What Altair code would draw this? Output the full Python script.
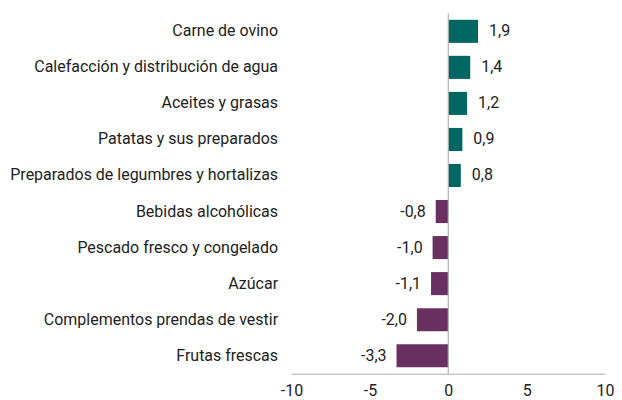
import altair as alt
import pandas as pd

categories = [
    "Carne de ovino",
    "Calefacción y distribución de agua",
    "Aceites y grasas",
    "Patatas y sus preparados",
    "Preparados de legumbres y hortalizas",
    "Bebidas alcohólicas",
    "Pescado fresco y congelado",
    "Azúcar",
    "Complementos prendas de vestir",
    "Frutas frescas",
]
values = [1.9, 1.4, 1.2, 0.9, 0.8, -0.8, -1.0, -1.1, -2.0, -3.3]
x_ticks = [-10, -5, 0, 5, 10]

df = pd.DataFrame({"cat": categories, "val": values})
df["label"] = [f"{v:.1f}".replace(".", ",") for v in values]
df["sign"] = ["pos" if v >= 0 else "neg" for v in values]

FONT = "Roboto"
FS = 16
y_enc = alt.Y("cat:N", sort=categories, title=None,
              scale=alt.Scale(paddingInner=0.36, paddingOuter=0.18),
              axis=alt.Axis(domain=False, ticks=False, labelPadding=14,
                            labelFontSize=FS, labelColor="#222222", labelFont=FONT,
                            labelLimit=400))
x_enc = alt.X("val:Q", title=None,
              scale=alt.Scale(domain=[-10, 10], nice=False),
              axis=alt.Axis(values=x_ticks, grid=False, ticks=False, domainColor="#c8c8c8",
                            domainWidth=1.5, labelPadding=9, labelFontSize=FS,
                            labelColor="#222222", labelFont=FONT, labelFlush=False,
                            labelExpr="replace(datum.label, '−', '-')"))

bars = alt.Chart(df).mark_bar().encode(
    y=y_enc, x=x_enc,
    color=alt.Color("sign:N", scale=alt.Scale(domain=["pos", "neg"], range=["#006663", "#6a3062"]), legend=None),
)

pos_text = alt.Chart(df[df.val >= 0]).mark_text(align="left", dx=11, fontSize=FS, font=FONT, color="#222222").encode(
    y=alt.Y("cat:N", sort=categories), x="val:Q", text="label:N")
neg_text = alt.Chart(df[df.val < 0]).mark_text(align="right", dx=-10, fontSize=FS, font=FONT, color="#222222").encode(
    y=alt.Y("cat:N", sort=categories), x="val:Q", text="label:N")

zero = alt.Chart(pd.DataFrame({"z": [0]})).mark_rule(color="#b0b0b0", strokeWidth=1.2).encode(x="z:Q")

chart = alt.layer(bars, zero, pos_text, neg_text).properties(
    width=314, height=361,
    padding={"left": 1, "top": 4, "right": 0, "bottom": 0},
).configure_view(strokeWidth=0)

chart.save("out.html", embed_options={"renderer": "svg", "actions": False})
